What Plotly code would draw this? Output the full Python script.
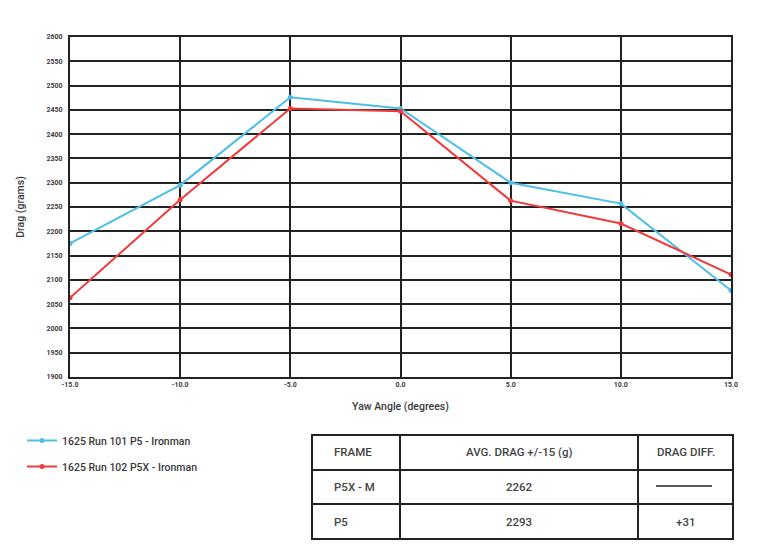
import plotly.graph_objects as go

# ---- data ----
yaw = [-15, -10, -5, 0, 5, 10, 15]
run101_p5 = [2175, 2295, 2476, 2453, 2300, 2257, 2078]
run102_p5x = [2063, 2265, 2453, 2447, 2263, 2216, 2111]
series_names = ["1625 Run 101 P5 - Ironman", "1625 Run 102 P5X - Ironman"]
x_ticks = [-15, -10, -5, 0, 5, 10, 15]
x_tick_labels = ["-15.0", "-10.0", "-5.0", "0.0", "5.0", "10.0", "15.0"]
y_ticks = list(range(1900, 2601, 50))

table_header = ["FRAME", "AVG. DRAG +/-15 (g)", "DRAG DIFF."]
table_rows = [["P5X - M", "2262", None], ["P5", "2293", "+31"]]

W, H = 775, 559
L, R, T, B = 70, 731, 37, 377  # plot area in px

def px(x):
    return (x - L) / (R - L)

def py(y):
    return (B - y) / (B - T)

BLUE = "#4cbfe6"
RED = "#f03a3a"
GRID = "#222222"
TXT = "#3a3a3a"
FONT = "Roboto"

fig = go.Figure()
fig.add_trace(go.Scatter(x=yaw, y=run101_p5, name=series_names[0], mode="lines+markers",
                         legendgroup="a",
                         line=dict(color=BLUE, width=2), marker=dict(size=5, color=BLUE)))
fig.add_trace(go.Scatter(x=yaw, y=run102_p5x, name=series_names[1], mode="lines+markers",
                         legendgroup="b",
                         line=dict(color=RED, width=2), marker=dict(size=5, color=RED)))

fig.update_layout(
    width=W, height=H,
    margin=dict(l=L, r=W - R, t=T, b=H - B),
    paper_bgcolor="white", plot_bgcolor="white",
    font=dict(family=FONT, color=TXT, weight=500),
    xaxis=dict(range=[-15, 15], tickvals=x_ticks, ticktext=x_tick_labels,
               showgrid=True, gridcolor=GRID, gridwidth=2, zeroline=False,
               showline=True, linecolor=GRID, linewidth=2, mirror=True,
               tickfont=dict(size=7, color=TXT, weight=700),
               title=dict(text="Yaw Angle (degrees)", font=dict(size=10.5, color=TXT, weight=500), standoff=14)),
    yaxis=dict(range=[1900, 2600], tickvals=y_ticks,
               showgrid=True, gridcolor=GRID, gridwidth=2, zeroline=False,
               showline=True, linecolor=GRID, linewidth=2, mirror=True,
               tickfont=dict(size=7, color=TXT, weight=700), ticklabelstandoff=4,
               title=dict(text="Drag (grams)", font=dict(size=10.5, color=TXT, weight=500), standoff=20)),
    legend=dict(x=px(22), y=py(426), xanchor="left", yanchor="top",
                font=dict(size=10.5, color=TXT, weight=500), itemwidth=30, tracegroupgap=7,
                bgcolor="rgba(0,0,0,0)"),
)

# ---- table ----
tl, tr, tt, tb = 312, 733, 435, 539
col_x = [400, 638]
row_y = [470, 504]
shapes = []
shapes.append(dict(type="rect", xref="paper", yref="paper", x0=px(tl), x1=px(tr), y0=py(tt), y1=py(tb),
                   line=dict(color=GRID, width=2)))
for cx in col_x:
    shapes.append(dict(type="line", xref="paper", yref="paper", x0=px(cx), x1=px(cx), y0=py(tt), y1=py(tb),
                       line=dict(color=GRID, width=2)))
for ry in row_y:
    shapes.append(dict(type="line", xref="paper", yref="paper", x0=px(tl), x1=px(tr), y0=py(ry), y1=py(ry),
                       line=dict(color=GRID, width=2)))
# em-dash placeholder line
shapes.append(dict(type="line", xref="paper", yref="paper", x0=px(656), x1=px(712), y0=py(486), y1=py(486),
                   line=dict(color=GRID, width=1.5)))

annotations = []
row_centers = [452, 487, 522]
col_centers = [None, (col_x[0] + col_x[1]) / 2, (col_x[1] + tr) / 2]
all_rows = [table_header] + table_rows
for ri, row in enumerate(all_rows):
    for ci, val in enumerate(row):
        if val is None:
            continue
        if ci == 0:
            annotations.append(dict(x=px(332), y=py(row_centers[ri]), xref="paper", yref="paper",
                                    text=val, showarrow=False, xanchor="left", yanchor="middle",
                                    font=dict(size=11.5, color="#444", family=FONT, weight=500)))
        else:
            annotations.append(dict(x=px(col_centers[ci]), y=py(row_centers[ri]), xref="paper", yref="paper",
                                    text=val, showarrow=False, xanchor="center", yanchor="middle",
                                    font=dict(size=11.5, color="#444", family=FONT, weight=500)))

fig.update_layout(shapes=shapes, annotations=annotations)
fig.write_html("out.html")
